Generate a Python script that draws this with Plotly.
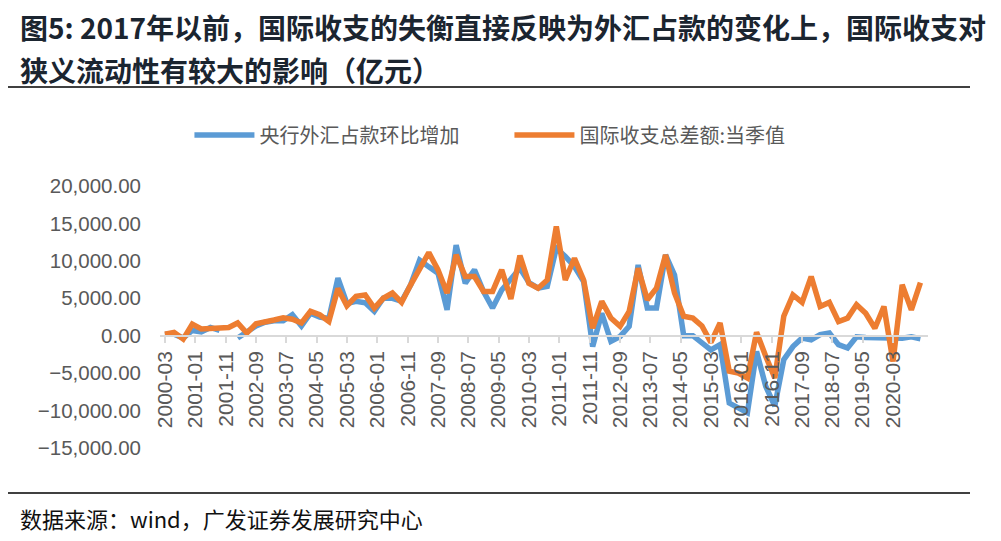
import pandas as pd
import plotly.graph_objects as go

# quarterly data, 2000-03 .. 2020-12 (亿元)
quarters = pd.date_range("2000-03-01", "2020-12-01", freq="3MS")

pboc_fx = [200, 200, -300, 700, 500, 1100, 700, None, -300, 500,
           1300, 1800, 2000, 2000, 2800, 1300, 3000, 2500, 2300, 7700,
           4300, 4600, 4400, 3250, 5000, 5000, 4600, 6800, 10100, 9200,
           8350, 3450, 12100, 7000, 8800, 5900, 3700, 6100, 7450, 9000,
           7100, 6350, 6600, 11700, 10600, 9250, 7250, -1450, 3000, -750,
           -100, 1250, 9450, 3700, 3700, 10800, 8100, 0, 0, -1000,
           -1900, -1200, -9000, -9650, -10300, -2100, -6750, -9400, -3200, -1450,
           -300, -550, 150, 350, -1200, -1650, -150, -250, -250, -200,
           -250, -350, -150, -400]

bop_total = [200, 450, -450, 1550, 900, 1000, 1050, 1100, 1700, 350,
             1600, 1800, 2100, 2400, 2200, 1700, 3250, 2800, 1900, 6300,
             4000, 5250, 5450, 3700, 5000, 5700, 4450, 6800, 9000, 11100,
             8800, 5700, 10800, 7900, 7900, 5900, 5900, 8800, 4900, 10700,
             7000, 6350, 7450, 14600, 7450, 10350, 7450, 1000, 4600, 2350,
             1250, 3250, 9000, 4800, 6350, 10800, 5700, 2600, 2350, 1300,
             -900, 1700, -4750, -5000, -5650, 450, -2750, -5650, 2600, 5450,
             4450, 7900, 3900, 4450, 1900, 2350, 4150, 3000, 1000, 3900,
             -3450, 6800, 3450, 7100]

tick_labels = ["2000-03", "2001-01", "2001-11", "2002-09", "2003-07",
               "2004-05", "2005-03", "2006-01", "2006-11", "2007-09",
               "2008-07", "2009-05", "2010-03", "2011-01", "2011-11",
               "2012-09", "2013-07", "2014-05", "2015-03", "2016-01",
               "2016-11", "2017-09", "2018-07", "2019-05", "2020-03"]

series_names = ["央行外汇占款环比增加", "国际收支总差额:当季值"]

title_1 = "图5: 2017年以前，国际收支的失衡直接反映为外汇占款的变化上，国际收支对"
title_2 = "狭义流动性有较大的影响（亿元）"
source = "数据来源：wind，广发证券发展研究中心"

cjk = "Noto Sans CJK SC"
gray = "#595959"

fig = go.Figure()
fig.add_trace(go.Scatter(x=quarters, y=pboc_fx, name=series_names[0],
                         mode="lines", connectgaps=False,
                         line=dict(color="#5B9BD5", width=5.5)))
fig.add_trace(go.Scatter(x=quarters, y=bop_total, name=series_names[1],
                         mode="lines",
                         line=dict(color="#ED7D31", width=5.5)))

# page body has an 8px margin, so the figure is shrunk by that much
fig.update_layout(
    width=993, height=533,
    margin=dict(l=152, r=73, t=178, b=93),
    paper_bgcolor="white", plot_bgcolor="white",
    showlegend=True,
    legend=dict(orientation="h", x=0.455, y=1.195, xanchor="center", yanchor="middle",
                font=dict(family=cjk, size=20, color=gray),
                itemwidth=60, entrywidth=245, entrywidthmode="pixels",
                tracegroupgap=0),
)

fig.update_xaxes(
    type="date", range=["2000-01-12", "2021-02-15"],
    tickvals=tick_labels, ticktext=tick_labels, tickangle=-90,
    anchor="free", position=15000 / 35000,
    showline=True, linecolor="#D9D9D9", linewidth=2,
    ticks="outside", ticklen=6, tickwidth=2, tickcolor="#D9D9D9",
    showgrid=False, zeroline=False,
    tickfont=dict(family="Liberation Sans, Arial", size=21, color=gray),
)
fig.update_yaxes(
    range=[-15000, 20000], dtick=5000, tickformat=",.2f",
    showgrid=False, zeroline=False, showline=False,
    ticklabelstandoff=18,
    tickfont=dict(family="Liberation Sans, Arial", size=20.5, color=gray),
)

# title, rules and source note
fig.add_annotation(text="<b>" + title_1 + "</b>", xref="paper", yref="paper",
                   x=-0.185, y=1.607, xanchor="left", yanchor="middle", showarrow=False,
                   font=dict(family=cjk, size=28, color="#1B2530"))
fig.add_annotation(text="<b>" + title_2 + "</b>", xref="paper", yref="paper",
                   x=-0.185, y=1.443, xanchor="left", yanchor="middle", showarrow=False,
                   font=dict(family=cjk, size=28, color="#1B2530"))
fig.add_annotation(text=source, xref="paper", yref="paper",
                   x=-0.185, y=-0.267, xanchor="left", yanchor="middle", showarrow=False,
                   font=dict(family=cjk, size=22, color="#111111"))
fig.add_shape(type="line", xref="paper", yref="paper", x0=-0.2018, x1=1.0547,
              y0=1.378, y1=1.378, line=dict(color="black", width=1.5))
fig.add_shape(type="line", xref="paper", yref="paper", x0=-0.2018, x1=1.0547,
              y0=-0.1718, y1=-0.1718, line=dict(color="black", width=1.5))

fig.write_html("out.html")
